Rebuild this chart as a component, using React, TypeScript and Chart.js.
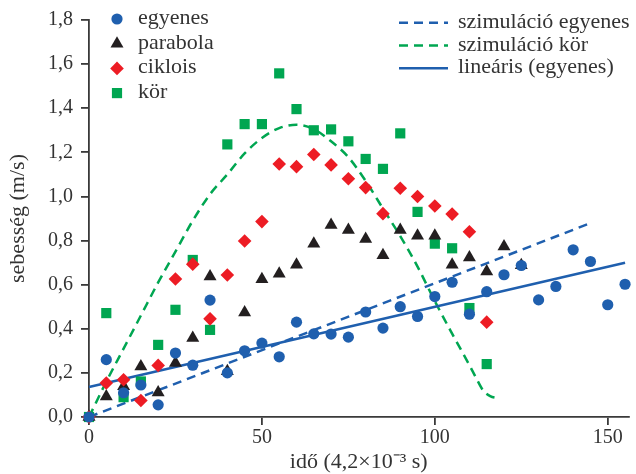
import React, { useEffect, useRef } from 'react';
import { Chart, registerables } from 'chart.js';

Chart.register(...registerables);

// ---- data (time in units of 4,2×10⁻³ s, speed in m/s) ----
const tEgyenes = [0, 5, 10, 15, 20, 25, 30, 35, 40, 45, 50, 55, 60, 65, 70, 75, 80, 85, 90, 95, 100, 105, 110, 115, 120, 125, 130, 135, 140, 145, 150, 155];
const vEgyenes = [0, 0.26, 0.11, 0.145, 0.055, 0.29, 0.235, 0.53, 0.2, 0.3, 0.335, 0.273, 0.43, 0.377, 0.376, 0.362, 0.476, 0.403, 0.5, 0.456, 0.546, 0.611, 0.466, 0.568, 0.645, 0.687, 0.531, 0.592, 0.758, 0.705, 0.509, 0.602];

const tParabola = [0, 5, 10, 15, 20, 25, 30, 35, 40, 45, 50, 55, 60, 65, 70, 75, 80, 85, 90, 95, 100, 105, 110, 115, 120, 125];
const vParabola = [0, 0.093, 0.139, 0.229, 0.111, 0.245, 0.358, 0.637, 0.207, 0.474, 0.625, 0.65, 0.69, 0.785, 0.871, 0.848, 0.807, 0.733, 0.848, 0.822, 0.822, 0.69, 0.723, 0.66, 0.773, 0.688];

const tCiklois = [0, 5, 10, 15, 20, 25, 30, 35, 40, 45, 50, 55, 60, 65, 70, 75, 80, 85, 90, 95, 100, 105, 110, 115];
const vCiklois = [0, 0.154, 0.169, 0.075, 0.234, 0.626, 0.693, 0.445, 0.644, 0.798, 0.886, 1.147, 1.135, 1.19, 1.143, 1.08, 1.04, 0.922, 1.037, 1.0, 0.957, 0.92, 0.84, 0.43];

const tKor = [0, 5, 10, 15, 20, 25, 30, 35, 40, 45, 50, 55, 60, 65, 70, 75, 80, 85, 90, 95, 100, 105, 110, 115];
const vKor = [0, 0.471, 0.09, 0.161, 0.327, 0.486, 0.712, 0.395, 1.236, 1.328, 1.328, 1.558, 1.396, 1.3, 1.304, 1.25, 1.17, 1.125, 1.286, 0.93, 0.786, 0.765, 0.494, 0.24];

const tSimEgyenes = [0, 145];
const vSimEgyenes = [0, 0.879];

const tSimKor = [0, 5, 10, 15, 20, 25, 30, 35, 40, 45, 50, 55, 60, 65, 70, 75, 80, 85, 90, 95, 100, 105, 110, 112, 114, 116, 118.5];
const vSimKor = [0, 0.16, 0.31, 0.46, 0.61, 0.75, 0.89, 1.01, 1.1, 1.195, 1.265, 1.31, 1.325, 1.305, 1.25, 1.178, 1.07, 0.945, 0.82, 0.682, 0.525, 0.378, 0.235, 0.175, 0.12, 0.095, 0.085];

const tLinear = [0, 155];
const vLinear = [0.136, 0.699];

const xTicks = [0, 50, 100, 150];
const yTicks = [0, 0.2, 0.4, 0.6, 0.8, 1.0, 1.2, 1.4, 1.6, 1.8];

const labels = ['egyenes', 'parabola', 'ciklois', 'kör', 'szimuláció egyenes', 'szimuláció kör', 'lineáris (egyenes)'];
const xTitle = 'idő (4,2×10⁻³ s)';
const yTitle = 'sebesség (m/s)';

// ---- styles ----
const FONT = '"Liberation Serif", "Times New Roman", serif';
const BLUE = '#1f5fae';
const BLACK = '#231f20';
const RED = '#ed1c24';
const GREEN = '#00a651';
const AXIS = '#3a3a3a';
const TEXT = '#333333';

const pts = (xs: number[], ys: number[]) => xs.map((x, i) => ({ x, y: ys[i] }));

function drawMarker(ctx: CanvasRenderingContext2D, style: string, x: number, y: number, r: number, color: string) {
  ctx.save();
  ctx.fillStyle = color;
  ctx.beginPath();
  if (style === 'circle') {
    ctx.arc(x, y, r, 0, Math.PI * 2);
  } else if (style === 'triangle') {
    for (let k = 0; k < 3; k++) {
      const a = -Math.PI / 2 + (k * 2 * Math.PI) / 3;
      const px = x + Math.cos(a) * r;
      const py = y + Math.sin(a) * r;
      if (k === 0) ctx.moveTo(px, py);
      else ctx.lineTo(px, py);
    }
    ctx.closePath();
  } else if (style === 'rectRot') {
    ctx.moveTo(x, y - r);
    ctx.lineTo(x + r, y);
    ctx.lineTo(x, y + r);
    ctx.lineTo(x - r, y);
    ctx.closePath();
  } else {
    const s = r * Math.SQRT1_2;
    ctx.rect(x - s, y - s, 2 * s, 2 * s);
  }
  ctx.fill();
  ctx.restore();
}

const dualLegend = {
  id: 'dualLegend',
  afterDraw(chart: any) {
    const ctx: CanvasRenderingContext2D = chart.ctx;
    const ds = chart.data.datasets;
    ctx.save();
    ctx.font = `22px ${FONT}`;
    ctx.fillStyle = TEXT;
    ctx.textAlign = 'left';
    ctx.textBaseline = 'alphabetic';
    // marker legend (top-left)
    for (let i = 0; i < 4; i++) {
      const d = ds[i];
      const y = 19 + i * 24.7;
      drawMarker(ctx, d.pointStyle, 117, y, d.pointRadius, d.backgroundColor);
      ctx.fillStyle = TEXT;
      ctx.fillText(d.label, 138, y + 5);
    }
    // line legend (top-right)
    for (let i = 4; i < 7; i++) {
      const d = ds[i];
      const y = 22.7 + (i - 4) * 22.8;
      ctx.save();
      ctx.strokeStyle = d.borderColor;
      ctx.lineWidth = d.borderWidth;
      ctx.setLineDash(d.borderDash || []);
      ctx.beginPath();
      ctx.moveTo(399, y);
      ctx.lineTo(448, y);
      ctx.stroke();
      ctx.restore();
      ctx.fillStyle = TEXT;
      ctx.fillText(d.label, 458, y + 5);
    }
    ctx.restore();
  },
};

export default function App() {
  const ref = useRef<HTMLCanvasElement>(null);

  useEffect(() => {
    if (!ref.current) return;
    const marker = (color: string, style: string, r: number, order: number) => ({
      pointStyle: style,
      pointRadius: r,
      pointHoverRadius: r,
      backgroundColor: color,
      borderColor: color,
      pointBorderWidth: 0,
      borderWidth: 0,
      showLine: false,
      order,
      clip: false as any,
    });
    const line = (color: string, dash: number[], order: number, mono: boolean) => ({
      showLine: true,
      borderColor: color,
      backgroundColor: color,
      borderWidth: 2.5,
      borderDash: dash,
      pointRadius: 0,
      pointHoverRadius: 0,
      fill: false,
      tension: 0,
      cubicInterpolationMode: mono ? 'monotone' : 'default',
      order,
      clip: false as any,
    });

    const chart = new Chart(ref.current, {
      type: 'scatter',
      data: {
        datasets: [
          { label: labels[0], data: pts(tEgyenes, vEgyenes), ...marker(BLUE, 'circle', 5.6, 0) },
          { label: labels[1], data: pts(tParabola, vParabola), ...marker(BLACK, 'triangle', 7.5, 2) },
          { label: labels[2], data: pts(tCiklois, vCiklois), ...marker(RED, 'rectRot', 6.8, 1) },
          { label: labels[3], data: pts(tKor, vKor), ...marker(GREEN, 'rect', 7.2, 3) },
          { label: labels[4], data: pts(tSimEgyenes, vSimEgyenes), ...line(BLUE, [9, 6], 5, false) },
          { label: labels[5], data: pts(tSimKor, vSimKor), ...line(GREEN, [9, 6], 6, true) },
          { label: labels[6], data: pts(tLinear, vLinear), ...line(BLUE, [], 4, false) },
        ] as any,
      },
      options: {
        responsive: true,
        maintainAspectRatio: false,
        animation: false,
        events: [],
        layout: { padding: { left: 0, right: 4, top: 20, bottom: 0 } },
        plugins: { legend: { display: false }, tooltip: { enabled: false } },
        scales: {
          x: {
            type: 'linear',
            min: 0,
            max: 156,
            afterBuildTicks: (s: any) => {
              s.ticks = xTicks.map((v) => ({ value: v }));
            },
            afterFit: (s: any) => {
              s.height = 57;
            },
            grid: { drawOnChartArea: false, drawTicks: true, tickLength: 8, color: AXIS, lineWidth: 1.8 },
            border: { display: true, color: AXIS, width: 1.8 },
            ticks: {
              font: { family: FONT, size: 20 },
              color: TEXT,
              padding: 1,
              maxRotation: 0,
              autoSkip: false,
              callback: (v: any) => String(v),
            },
            title: {
              display: true,
              text: xTitle,
              font: { family: FONT, size: 22, lineHeight: 1.1 },
              color: TEXT,
              padding: { top: 0, bottom: 0 },
            },
          },
          y: {
            type: 'linear',
            min: 0,
            max: 1.8,
            afterBuildTicks: (s: any) => {
              s.ticks = yTicks.map((v) => ({ value: v }));
            },
            afterFit: (s: any) => {
              s.width = 89;
            },
            grid: { drawOnChartArea: false, drawTicks: true, tickLength: 8, color: AXIS, lineWidth: 1.8 },
            border: { display: true, color: AXIS, width: 1.8 },
            ticks: {
              font: { family: FONT, size: 20 },
              color: TEXT,
              padding: 8,
              autoSkip: false,
              callback: (v: any) => Number(v).toFixed(1).replace('.', ','),
            },
            title: {
              display: true,
              text: yTitle,
              font: { family: FONT, size: 22, lineHeight: 1.2 },
              color: TEXT,
              padding: { top: 5, bottom: 0 },
            },
          },
        },
      } as any,
      plugins: [dualLegend],
    });
    return () => chart.destroy();
  }, []);

  return (
    <div style={{ position: 'fixed', left: 0, top: 0, width: 636, height: 474, background: '#fff' }}>
      <canvas ref={ref} />
    </div>
  );
}
